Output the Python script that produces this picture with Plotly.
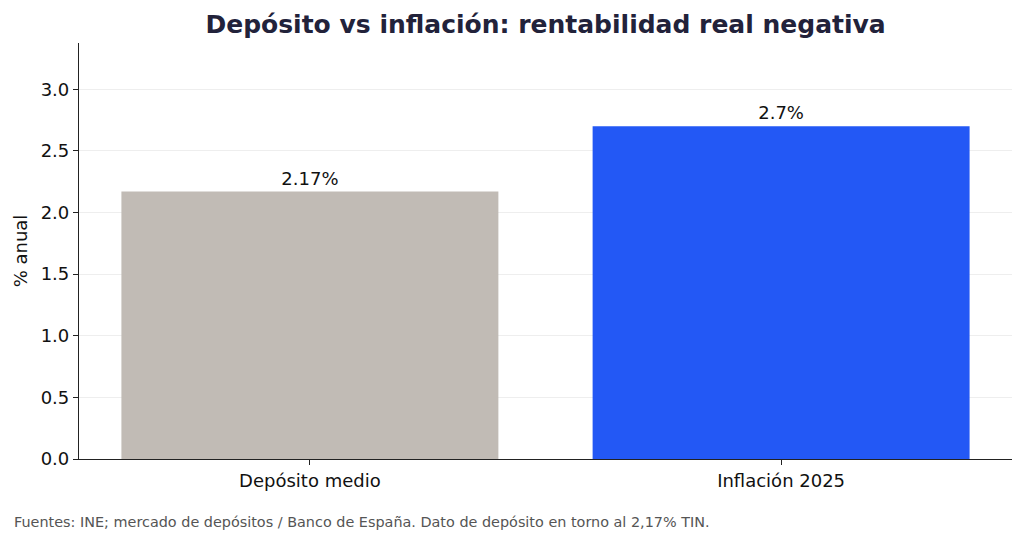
import plotly.graph_objects as go

categories = ["Depósito medio", "Inflación 2025"]
values = [2.17, 2.7]
labels = ["2.17%", "2.7%"]
colors = ["#c1bbb5", "#2358f5"]
yticks = [0.0, 0.5, 1.0, 1.5, 2.0, 2.5, 3.0]

FONT = "DejaVu Sans"

fig = go.Figure()
fig.add_trace(go.Bar(
    x=[0, 1], y=values, width=0.8,
    marker=dict(color=colors, line=dict(width=0)),
    text=labels, textposition="outside",
    textfont=dict(family=FONT, size=18, color="#111111"),
    cliponaxis=False,
))

fig.update_layout(
    width=1024, height=542,
    margin=dict(l=79, r=12, t=43, b=83),
    paper_bgcolor="white", plot_bgcolor="white",
    showlegend=False,
    bargap=0.2,
    font=dict(family=FONT, size=17, color="#111111"),
    title=dict(text="<b>Depósito vs inflación: rentabilidad real negativa</b>",
               x=0.5328, xanchor="center", y=0.955, yanchor="middle",
               font=dict(family=FONT, size=25, color="#22223a")),
    xaxis=dict(range=[-0.49, 1.49], tickmode="array", tickvals=[0, 1], ticktext=categories,
               showline=True, linecolor="#222222", linewidth=1.2,
               ticks="outside", ticklen=5, tickcolor="#222222",
               showgrid=False, zeroline=False,
               tickfont=dict(family=FONT, size=18, color="#111111")),
    yaxis=dict(range=[0, 3.375], tickmode="array", tickvals=yticks,
               ticktext=[f"{v:.1f}" for v in yticks],
               showline=True, linecolor="#222222", linewidth=1.2,
               ticks="outside", ticklen=5, tickcolor="#222222",
               showgrid=True, gridcolor="#eeeeee", gridwidth=1,
               zeroline=False,
               title=dict(text="% anual", font=dict(family=FONT, size=18, color="#111111"), standoff=8),
               tickfont=dict(family=FONT, size=18, color="#111111")),
)

fig.add_annotation(
    text="Fuentes: INE; mercado de depósitos / Banco de España. Dato de depósito en torno al 2,17% TIN.",
    xref="paper", yref="paper", x=(12 - 79) / 933, y=-63 / 416, xanchor="left", yanchor="middle",
    showarrow=False, font=dict(family=FONT, size=14.4, color="#555555"),
)

fig.write_html("out.html")
